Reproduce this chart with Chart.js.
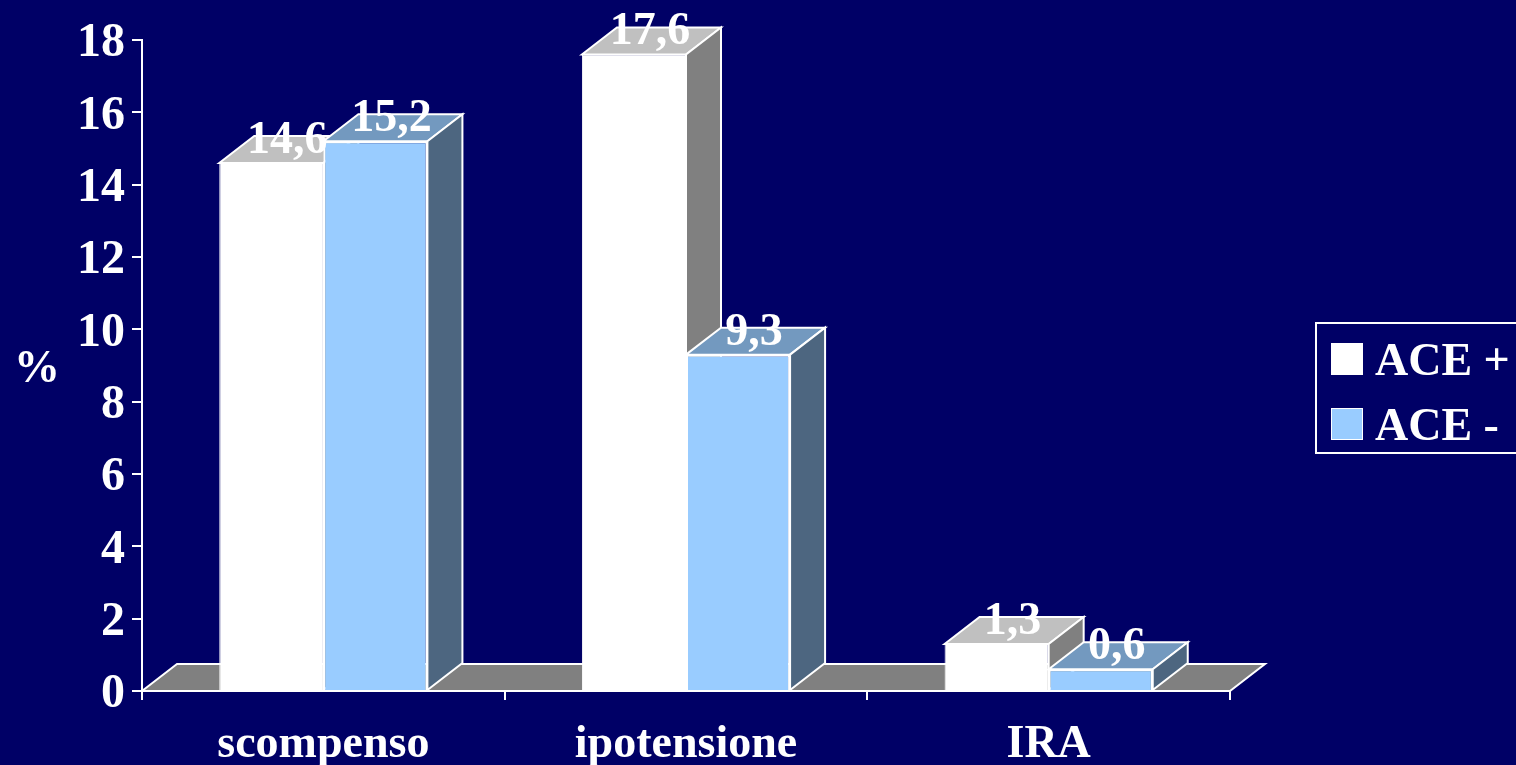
<!DOCTYPE html>
<html lang="it">
<head>
<meta charset="utf-8">
<title>ACE + / ACE -</title>
<script src="https://cdn.jsdelivr.net/npm/chart.js@4/dist/chart.umd.min.js"></script>
<style>
  html, body { margin: 0; padding: 0; background: #000066; overflow: hidden; }
  canvas { display: block; }
</style>
</head>
<body>
<canvas id="chart" width="1516" height="765"></canvas>
<script>
const categories = ['scompenso', 'ipotensione', 'IRA'];
const acePlus = [14.6, 17.6, 1.3];
const aceMinus = [15.2, 9.3, 0.6];
const seriesNames = ['ACE +', 'ACE -'];
const axisUnit = '%';

const FAMILY = '"Liberation Serif", "Times New Roman", serif';
const FONT = 'bold 46px ' + FAMILY;
const WHITE = '#ffffff';
const DEPTH_X = 35;
const DEPTH_Y = 27;

const faceColors = [
  { front: '#ffffff', top: '#c0c0c0', side: '#808080' },
  { front: '#99ccff', top: '#7399bf', side: '#4d6680' }
];

function polygon(ctx, pts, fill, stroke) {
  ctx.beginPath();
  pts.forEach((p, i) => (i ? ctx.lineTo(p[0], p[1]) : ctx.moveTo(p[0], p[1])));
  ctx.closePath();
  ctx.fillStyle = fill;
  ctx.fill();
  ctx.lineWidth = 2;
  ctx.strokeStyle = stroke;
  ctx.lineJoin = 'miter';
  ctx.stroke();
}

// Extruded look: floor under the columns, then top and side faces left to right,
// so each column's faces sit over those of the column before it.
const extrusion = {
  id: 'extrusion',
  beforeDatasetsDraw(chart) {
    const { ctx, chartArea: a } = chart;
    polygon(ctx, [
      [a.left, a.bottom],
      [a.left + DEPTH_X, a.bottom - DEPTH_Y],
      [a.right + DEPTH_X, a.bottom - DEPTH_Y],
      [a.right, a.bottom]
    ], '#808080', WHITE);

    chart.data.datasets.forEach((ds, i) => {
      const colors = faceColors[i];
      chart.getDatasetMeta(i).data.forEach(bar => {
        const p = bar.getProps(['x', 'y', 'base', 'width'], true);
        const l = p.x - p.width / 2;
        const r = p.x + p.width / 2;
        polygon(ctx, [
          [l, p.y],
          [l + DEPTH_X, p.y - DEPTH_Y],
          [r + DEPTH_X, p.y - DEPTH_Y],
          [r, p.y]
        ], colors.top, WHITE);
        polygon(ctx, [
          [r, p.y],
          [r + DEPTH_X, p.y - DEPTH_Y],
          [r + DEPTH_X, p.base - DEPTH_Y],
          [r, p.base]
        ], colors.side, WHITE);
      });
    });
  },
  afterDatasetsDraw(chart) {
    const { ctx, chartArea: a } = chart;
    // Baseline redrawn over the column feet.
    ctx.strokeStyle = WHITE;
    ctx.lineWidth = 2;
    ctx.beginPath();
    ctx.moveTo(a.left, a.bottom);
    ctx.lineTo(a.right, a.bottom);
    ctx.stroke();

    // Value labels, decimal comma, sitting on the top faces.
    ctx.font = FONT;
    ctx.fillStyle = WHITE;
    ctx.textAlign = 'center';
    ctx.textBaseline = 'alphabetic';
    chart.data.datasets.forEach((ds, i) => {
      chart.getDatasetMeta(i).data.forEach((bar, j) => {
        const p = bar.getProps(['x', 'y'], true);
        ctx.fillText(ds.data[j].toFixed(1).replace('.', ','), p.x + 16, p.y - 10);
      });
    });
  }
};

// Framed legend running off the right edge, plus the unit beside the value axis.
const annotations = {
  id: 'annotations',
  afterDraw(chart) {
    const { ctx } = chart;
    ctx.lineWidth = 2;
    ctx.strokeStyle = WHITE;
    ctx.strokeRect(1316, 323, 240, 130);

    ctx.font = FONT;
    ctx.textAlign = 'left';
    ctx.textBaseline = 'alphabetic';
    chart.data.datasets.forEach((ds, i) => {
      const top = 344 + i * 65;
      ctx.fillStyle = ds.backgroundColor;
      ctx.fillRect(1332, top, 30, 30);
      ctx.lineWidth = 1;
      ctx.strokeStyle = WHITE;
      ctx.strokeRect(1331.5, top - 0.5, 31, 31);
      ctx.fillStyle = WHITE;
      ctx.fillText(ds.label, 1375, top + 31);
    });

    ctx.textAlign = 'center';
    ctx.fillText(axisUnit, 37, 382);
  }
};

new Chart(document.getElementById('chart'), {
  type: 'bar',
  data: {
    labels: categories,
    datasets: [
      {
        label: seriesNames[0],
        data: acePlus,
        backgroundColor: faceColors[0].front,
        borderColor: WHITE,
        borderWidth: 1
      },
      {
        label: seriesNames[1],
        data: aceMinus,
        backgroundColor: faceColors[1].front,
        borderColor: WHITE,
        borderWidth: 2
      }
    ]
  },
  options: {
    responsive: false,
    animation: false,
    devicePixelRatio: 1,
    categoryPercentage: 0.574,
    barPercentage: 1,
    layout: { padding: { top: 40, right: 286, left: 0, bottom: 0 } },
    plugins: { legend: { display: false }, tooltip: { enabled: false } },
    scales: {
      x: {
        afterFit(scale) { scale.height = 74; },
        border: { color: WHITE, width: 2 },
        grid: { drawOnChartArea: false, color: WHITE, lineWidth: 2, tickLength: 9 },
        ticks: {
          color: WHITE,
          font: { family: FAMILY, size: 46, weight: 'bold' },
          padding: 18,
          maxRotation: 0,
          autoSkip: false
        }
      },
      y: {
        min: 0,
        max: 18,
        afterFit(scale) { scale.width = 142; },
        border: { color: WHITE, width: 2 },
        grid: { drawOnChartArea: false, color: WHITE, lineWidth: 2, tickLength: 10 },
        ticks: {
          stepSize: 2,
          color: WHITE,
          font: { family: FAMILY, size: 48, weight: 'bold' },
          padding: 7,
          labelOffset: 4
        }
      }
    }
  },
  plugins: [extrusion, annotations]
});
</script>
</body>
</html>
